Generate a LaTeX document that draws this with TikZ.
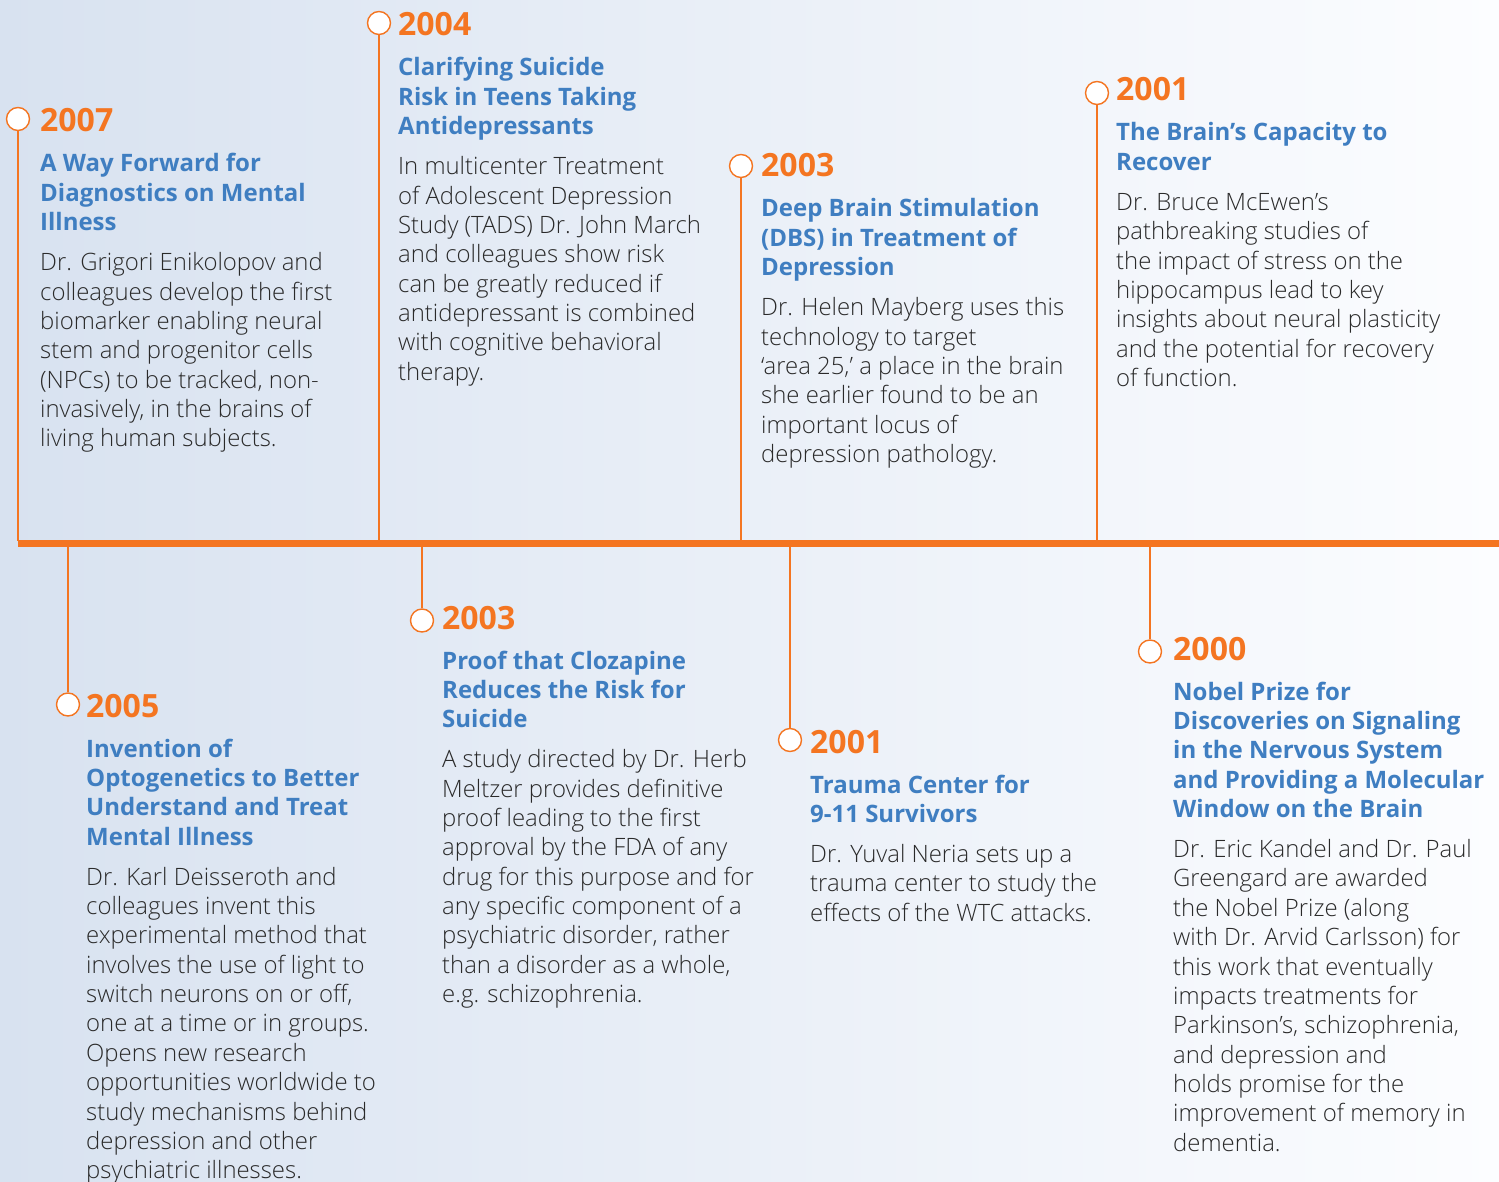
\documentclass[tikz,border=0pt]{standalone}
\usepackage{fontspec}
\setmainfont{Open Sans}
\newfontfamily\lightfont{Open Sans Light}
\definecolor{tlorange}{HTML}{F47521}
\definecolor{tlblue}{HTML}{3F7EC1}
\definecolor{tltext}{HTML}{2A2A2A}
\definecolor{bgL}{HTML}{D8E2F0}
\definecolor{bgR}{HTML}{FCFDFF}
\tikzset{
  yeartext/.style={anchor=base west, inner sep=0pt, text=tlorange, font=\bfseries\fontsize{32}{36}\selectfont},
  titletext/.style={anchor=base west, inner sep=0pt, text=tlblue, font=\bfseries\fontsize{24}{29.4}\selectfont},
  bodytext/.style={anchor=base west, inner sep=0pt, text=tltext, font=\lightfont\fontsize{23.9}{29.35}\selectfont},
  dot/.style={circle, draw=tlorange, fill=white, line width=1.4pt, minimum size=23pt, inner sep=0pt},
  stem/.style={draw=tlorange, line width=1.5pt},
  mainline/.style={draw=tlorange, line width=7.5pt}
}
\newcommand{\tllines}[1]{\begin{tabular}[t]{@{}l@{}}#1\end{tabular}}
% #1 name, #2 x of stem, #3 y of circle, #4 x of text, #5 baseline of first title line, #6 number of title lines, #7 year, #8 title, #9 body
\newcommand{\tlentry}[9]{%
  \node[dot] (#1c) at (#2,#3) {};
  \node[yeartext] (#1y) at (#4,#5-40) {#7};
  \node[titletext] (#1t) at (#4,#5) {\tllines{#8}};
  \node[bodytext] (#1b) at (#4,#5+29.4*#6-29.4+40) {\tllines{#9}};
}
\begin{document}
\begin{tikzpicture}[x=1pt,y=-1pt]
\useasboundingbox (0,0) rectangle (1499,1182);
\shade[left color=bgL, right color=bgR] (0,0) rectangle (1499,1182);
\coordinate (ml0) at (18,543.5);
\coordinate (ml1) at (1499,543.5);
\draw[mainline] (ml0) -- (ml1);
% stem end points on the main line
\coordinate (s1) at (18,541);
\coordinate (s2) at (379,541);
\coordinate (s3) at (741,541);
\coordinate (s4) at (1097,541);
\coordinate (s5) at (68,546);
\coordinate (s6) at (422,546);
\coordinate (s7) at (790,546);
\coordinate (s8) at (1150,546);

\tlentry{e1}{18}{119}{40}{172}{3}{2007}
 {A Way Forward for\\Diagnostics on Mental\\Illness}
 {Dr. Grigori Enikolopov and\\colleagues develop the first\\biomarker enabling neural\\stem and progenitor cells\\(NPCs) to be tracked, non-\\invasively, in the brains of\\living human subjects.}
\tlentry{e2}{379}{23}{398}{76}{3}{2004}
 {Clarifying Suicide\\Risk in Teens Taking\\Antidepressants}
 {In multicenter Treatment\\of Adolescent Depression\\Study (TADS) Dr. John March\\and colleagues show risk\\can be greatly reduced if\\antidepressant is combined\\with cognitive behavioral\\therapy.}
\tlentry{e3}{741}{166}{761}{217}{3}{2003}
 {Deep Brain Stimulation\\(DBS) in Treatment of\\Depression}
 {Dr. Helen Mayberg uses this\\technology to target\\‘area 25,’ a place in the brain\\she earlier found to be an\\important locus of\\depression pathology.}
\tlentry{e4}{1097}{93}{1116}{141}{2}{2001}
 {The Brain’s Capacity to\\Recover}
 {Dr. Bruce McEwen’s\\pathbreaking studies of\\the impact of stress on the\\hippocampus lead to key\\insights about neural plasticity\\and the potential for recovery\\of function.}
\tlentry{e5}{68}{704.5}{86}{757}{4}{2005}
 {Invention of\\Optogenetics to Better\\Understand and Treat\\Mental Illness}
 {Dr. Karl Deisseroth and\\colleagues invent this\\experimental method that\\involves the use of light to\\switch neurons on or off,\\one at a time or in groups.\\Opens new research\\opportunities worldwide to\\study mechanisms behind\\depression and other\\psychiatric illnesses.}
\tlentry{e6}{422}{620.5}{442}{669}{3}{2003}
 {Proof that Clozapine\\Reduces the Risk for\\Suicide}
 {A study directed by Dr. Herb\\Meltzer provides definitive\\proof leading to the first\\approval by the FDA of any\\drug for this purpose and for\\any specific component of a\\psychiatric disorder, rather\\than a disorder as a whole,\\e.g. schizophrenia.}
\tlentry{e7}{790}{740}{810}{793}{2}{2001}
 {Trauma Center for\\9-11 Survivors}
 {Dr. Yuval Neria sets up a\\trauma center to study the\\effects of the WTC attacks.}
\tlentry{e8}{1150}{651.5}{1173}{700}{5}{2000}
 {Nobel Prize for\\Discoveries on Signaling\\in the Nervous System\\and Providing a Molecular\\Window on the Brain}
 {Dr. Eric Kandel and Dr. Paul\\Greengard are awarded\\the Nobel Prize (along\\with Dr. Arvid Carlsson) for\\this work that eventually\\impacts treatments for\\Parkinson’s, schizophrenia,\\and depression and\\holds promise for the\\improvement of memory in\\dementia.}

\draw[stem] (e1c) -- (s1);
\draw[stem] (e2c) -- (s2);
\draw[stem] (e3c) -- (s3);
\draw[stem] (e4c) -- (s4);
\draw[stem] (s5) -- (e5c);
\draw[stem] (s6) -- (e6c);
\draw[stem] (s7) -- (e7c);
\draw[stem] (s8) -- (e8c);
\end{tikzpicture}
\end{document}
